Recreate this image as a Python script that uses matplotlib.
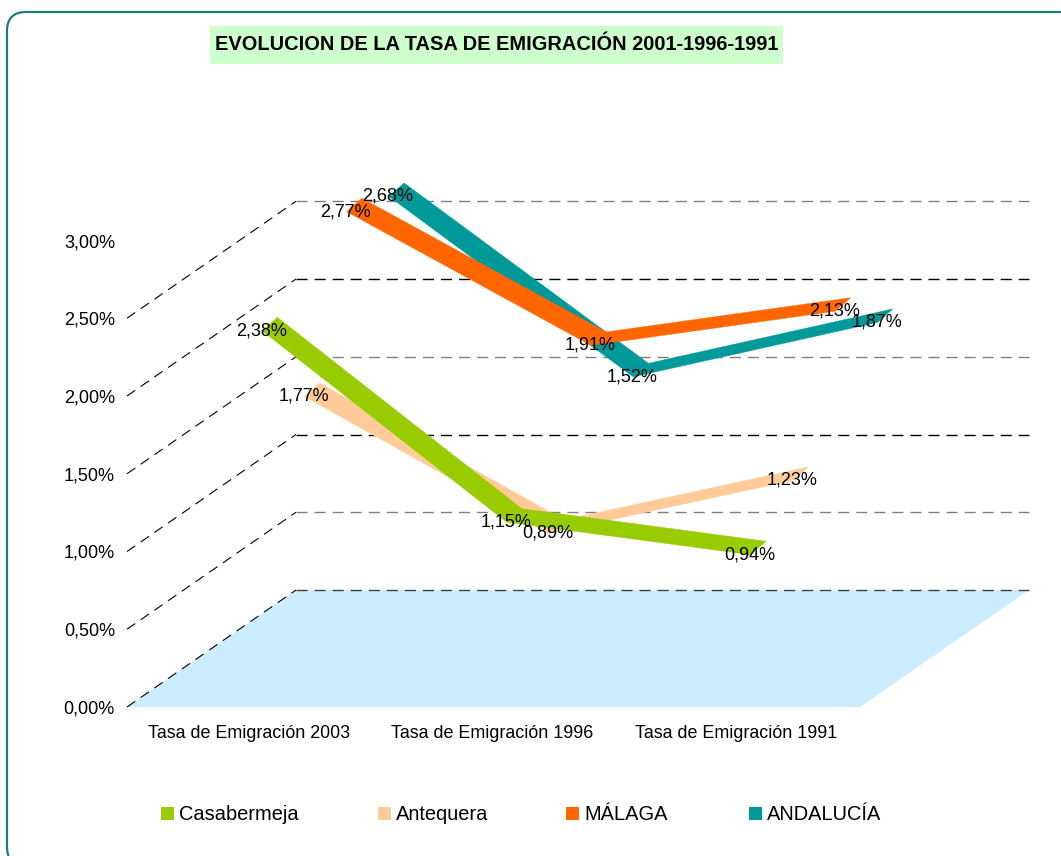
import matplotlib
matplotlib.use('Agg')
import matplotlib.pyplot as plt
from matplotlib.patches import FancyBboxPatch, Polygon, Rectangle

plt.rcParams['font.family'] = ['Liberation Sans', 'DejaVu Sans']

title = 'EVOLUCION DE LA TASA DE EMIGRACIÓN 2001-1996-1991'
categories = ['Tasa de Emigración 2003', 'Tasa de Emigración 1996', 'Tasa de Emigración 1991']
y_ticks = [0.0, 0.5, 1.0, 1.5, 2.0, 2.5, 3.0]

# front to back, as in the legend
names = ['Casabermeja', 'Antequera', 'MÁLAGA', 'ANDALUCÍA']
casabermeja = [2.38, 1.15, 0.94]
antequera = [1.77, 0.89, 1.23]
malaga = [2.77, 1.91, 2.13]
andalucia = [2.68, 1.52, 1.87]
series = [casabermeja, antequera, malaga, andalucia]
colors = ['#99CC00', '#FFCC99', '#FF6600', '#009999']

# the 3d box in pixels
X0, Y0 = 127, 707
FRONT_W = 733
DX, DY = 169, -117
PX_PER_PCT = 155.5
RIBBON = 0.09
RIBBON_DROP = 0.019


def proj(cat, depth, val):
    # cat is 0..3 along the front edge, depth 0..1 front to back
    x = X0 + FRONT_W * cat / 3 + DX * depth
    y = Y0 - PX_PER_PCT * val + DY * depth
    return x, y


def pct(v):
    return f'{v:.2f}'.replace('.', ',') + '%'


fig = plt.figure(figsize=(10.61, 8.56), dpi=100)
ax = fig.add_axes([0, 0, 1, 1])
ax.set_xlim(0, 1061)
ax.set_ylim(856, 0)
ax.axis('off')

# outer border
ax.add_patch(FancyBboxPatch((7, 12), 1085, 854, boxstyle='round,pad=0,rounding_size=19',
                            fc='white', ec='#1F7A7A', lw=1.6))

# title
ax.add_patch(Rectangle((210, 26), 573, 38, fc='#CCFFCC', ec='none'))
ax.text(497, 44, title, fontsize=14.4, fontweight='bold', ha='center', va='center', color='black')

# floor
floor = [proj(0, 0, 0), proj(0, 1, 0), proj(3, 1, 0), proj(3, 0, 0)]
ax.add_patch(Polygon(floor, closed=True, fc='#CCECFF', ec='none', zorder=1))

# gridlines on the walls
grid_cols = ['#404040', '#808080', '#000000', '#808080', '#000000', '#808080']
for v, col in zip(y_ticks[:-1], grid_cols):
    xa, ya = proj(0, 0, v)
    xb, yb = proj(0, 1, v)
    ax.plot([xa, xb], [ya, yb], color='black', lw=0.8, dashes=(9, 6), zorder=2)
    xc, yc = proj(3, 1, v)
    ax.plot([xb, xc], [yb, yc], color=col, lw=1.0, dashes=(8, 5), zorder=2)

# ribbons, back series first
for i in [3, 2, 1, 0]:
    d = (i + 0.5) / 4 + 0.042
    vals = series[i]
    for j in range(len(vals) - 1):
        pts = [proj(j + 0.5, d - RIBBON, vals[j] - RIBBON_DROP),
               proj(j + 0.5, d, vals[j]),
               proj(j + 1.5, d, vals[j + 1]),
               proj(j + 1.5, d - RIBBON, vals[j + 1] - RIBBON_DROP)]
        ax.add_patch(Polygon(pts, closed=True, fc=colors[i], ec=colors[i], lw=0.3, zorder=3 + (3 - i)))

# data labels
for i in range(4):
    d = (i + 0.5) / 4
    for j, v in enumerate(series[i]):
        x, y = proj(j + 0.5, d, v)
        ax.text(x - 9, y + 8.5, pct(v), fontsize=13, ha='center', va='center', color='black', zorder=10)

# axis text
for v in y_ticks:
    ax.text(115, proj(0, 0, v)[1] + 2, pct(v), fontsize=13, ha='right', va='center', color='black')
for j, c in enumerate(categories):
    ax.text(proj(j + 0.5, 0, 0)[0] - 0.5 * (j + 1), 733, c, fontsize=12.85, ha='center', va='center', color='black')

# legend
legend_x = [161, 378, 566, 748.5]
for x, name, col in zip(legend_x, names, colors):
    ax.add_patch(Rectangle((x, 807), 13, 13, fc=col, ec='none'))
    ax.text(x + 18, 815, name, fontsize=14.4, ha='left', va='center', color='black')

fig.savefig('out.png', dpi=100)
